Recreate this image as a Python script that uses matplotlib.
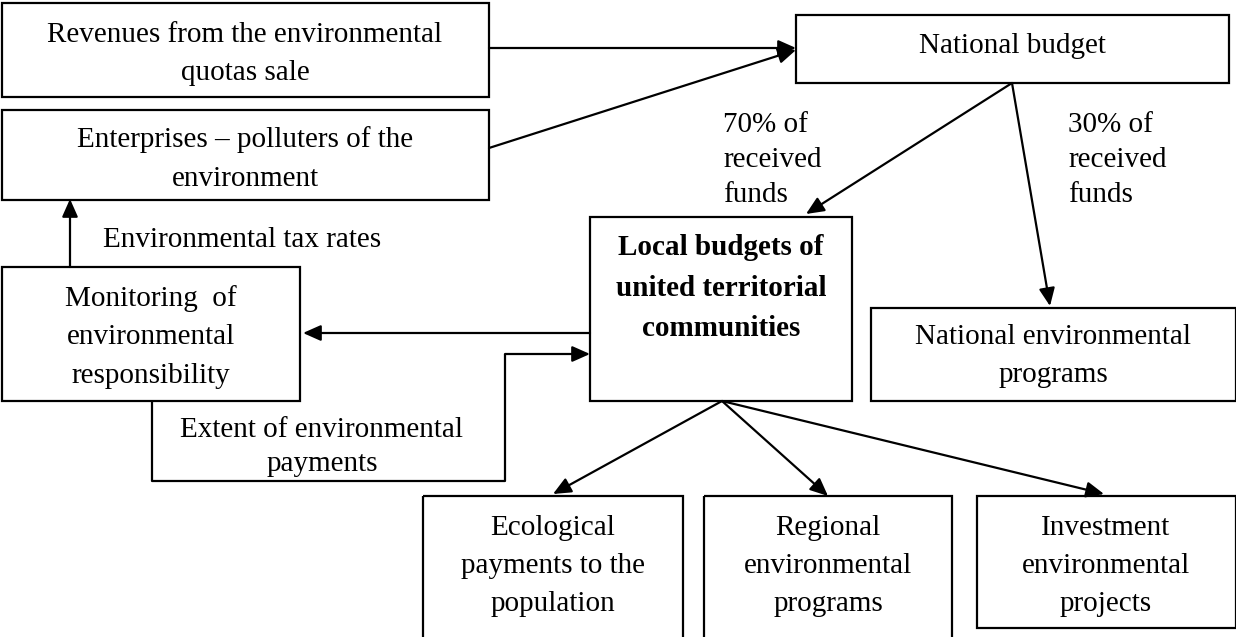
import matplotlib
matplotlib.use("Agg")
import matplotlib.pyplot as plt
from matplotlib.patches import Rectangle

W, H = 1236, 637
FONT = "Liberation Serif"
FS = 21
LS = 1.62
LS2 = 1.44

# Box labels
box_labels = [
    "Revenues from the environmental\nquotas sale",
    "Enterprises \u2013 polluters of the\nenvironment",
    "National budget",
    "Monitoring  of\nenvironmental\nresponsibility",
    "Local budgets of\nunited territorial\ncommunities",
    "National environmental\nprograms",
    "Ecological\npayments to the\npopulation",
    "Regional\nenvironmental\nprograms",
    "Investment\nenvironmental\nprojects",
]
# edge labels
edge_labels = [
    "Environmental tax rates",
    "Extent of environmental\npayments",
    "70% of\nreceived\nfunds",
    "30% of\nreceived\nfunds",
]

# layout (pixels: x0, y0, x1, y1)
boxes = [
    (2, 3, 489, 97),
    (2, 110, 489, 200),
    (796, 15, 1229, 83),
    (2, 267, 300, 401),
    (590, 217, 852, 401),
    (871, 308, 1236, 401),
    (423, 496, 683, 640),
    (704, 496, 952, 640),
    (977, 496, 1236, 628),
]
text_pos = [
    (245, 54), (245, 159), (1012, 46), (151, 337), (721, 288),
    (1053, 356), (553, 566), (828, 566), (1106, 566),
]

fig = plt.figure(figsize=(W / 100, H / 100), dpi=100)
ax = fig.add_axes([0, 0, 1, 1])
ax.set_xlim(0, W)
ax.set_ylim(H, 0)
ax.axis("off")

LW = 1.6
for i, (x0, y0, x1, y1) in enumerate(boxes):
    ax.add_patch(Rectangle((x0, y0), x1 - x0, y1 - y0, fill=False,
                           edgecolor="black", linewidth=LW))
    tx, ty = text_pos[i]
    ax.text(tx, ty, box_labels[i], ha="center", va="center", family=FONT,
            fontsize=FS, fontweight="bold" if i == 4 else "normal",
            linespacing=LS)

def arrow(p0, p1):
    ax.annotate("", xy=p1, xytext=p0,
                arrowprops=dict(arrowstyle="-|>,head_length=0.9,head_width=0.4",
                                mutation_scale=12, color="black", lw=LW,
                                shrinkA=0, shrinkB=0))

def line(xs, ys):
    ax.plot(xs, ys, color="black", lw=LW, solid_capstyle="butt")

arrow((489, 48), (796, 48))
arrow((489, 148), (796, 50))
arrow((70, 267), (70, 199))
arrow((590, 333), (303, 333))
line([152, 152, 505, 505], [401, 481, 481, 354])
arrow((505, 354), (590, 354))
arrow((1012, 83), (806, 214))
arrow((1012, 83), (1050, 306))
arrow((722, 401), (553, 494))
arrow((722, 401), (828, 496))
arrow((722, 401), (1104, 494))

ax.text(103, 240, edge_labels[0], ha="left", va="center", family=FONT, fontsize=FS)
ax.text(322, 447, edge_labels[1], ha="center", va="center", family=FONT,
        fontsize=FS, linespacing=LS2)
ax.text(723, 160, edge_labels[2], ha="left", va="center", family=FONT,
        fontsize=FS, linespacing=LS2)
ax.text(1068, 160, edge_labels[3], ha="left", va="center", family=FONT,
        fontsize=FS, linespacing=LS2)

fig.savefig("out.png", dpi=100)
